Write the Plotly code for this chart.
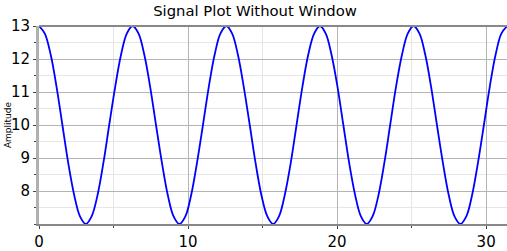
import plotly.graph_objects as go

time = [0.00, 0.39, 0.79, 1.18, 1.57, 1.96, 2.36, 2.75, 3.14, 3.53, 3.93, 4.32, 4.71, 5.11, 5.50, 5.89,
        6.28, 6.68, 7.07, 7.46, 7.85, 8.25, 8.64, 9.03, 9.42, 9.82, 10.21, 10.60, 11.00, 11.39, 11.78, 12.17,
        12.57, 12.96, 13.35, 13.74, 14.14, 14.53, 14.92, 15.32, 15.71, 16.10, 16.49, 16.89, 17.28, 17.67, 18.06, 18.46,
        18.85, 19.24, 19.63, 20.03, 20.42, 20.81, 21.21, 21.60, 21.99, 22.38, 22.78, 23.17, 23.56, 23.95, 24.35, 24.74,
        25.13, 25.53, 25.92, 26.31, 26.70, 27.10, 27.49, 27.88, 28.27, 28.67, 29.06, 29.45, 29.85, 30.24, 30.63, 31.02,
        31.42]
amplitude = [13, 12.77, 12.12, 11.15, 10, 8.85, 7.88, 7.23, 7, 7.23, 7.88, 8.85, 10, 11.15, 12.12, 12.77,
             13, 12.77, 12.12, 11.15, 10, 8.85, 7.88, 7.23, 7, 7.23, 7.88, 8.85, 10, 11.15, 12.12, 12.77,
             13, 12.77, 12.12, 11.15, 10, 8.85, 7.88, 7.23, 7, 7.23, 7.88, 8.85, 10, 11.15, 12.12, 12.77,
             13, 12.77, 12.12, 11.15, 10, 8.85, 7.88, 7.23, 7, 7.23, 7.88, 8.85, 10, 11.15, 12.12, 12.77,
             13, 12.77, 12.12, 11.15, 10, 8.85, 7.88, 7.23, 7, 7.23, 7.88, 8.85, 10, 11.15, 12.12, 12.77,
             13]

x_ticks = [0, 10, 20, 30]
y_ticks = [8, 9, 10, 11, 12, 13]

FONT = "DejaVu Sans"

fig = go.Figure()
fig.add_trace(go.Scatter(x=time, y=amplitude, mode="lines",
                         line=dict(color="#0000ff", width=1.8, shape="spline", smoothing=1.0),
                         hoverinfo="skip"))

fig.update_layout(
    width=507, height=251,
    margin=dict(l=39, r=0, t=26, b=27),
    paper_bgcolor="white", plot_bgcolor="white",
    showlegend=False,
    font=dict(family=FONT, color="black"),
    title=dict(text="Signal Plot Without Window", x=0.503, xanchor="center", y=0.958, yanchor="middle",
               font=dict(family=FONT, size=14.8, color="black")),
)

fig.update_xaxes(
    range=[0, 31.4], tickvals=x_ticks, ticktext=[str(v) for v in x_ticks],
    showgrid=True, gridcolor="#b4b4b4", gridwidth=1,
    minor=dict(dtick=5, showgrid=True, gridcolor="#e6e6e6", ticks="outside", ticklen=2, tickcolor="#444"),
    ticks="outside", ticklen=3, tickcolor="#444",
    showline=True, linecolor="#888888", linewidth=2, mirror=False,
    zeroline=False, tickfont=dict(family=FONT, size=15, color="black"),
)
fig.update_yaxes(
    range=[7, 13], tickvals=y_ticks, ticktext=[str(v) for v in y_ticks],
    showgrid=True, gridcolor="#b4b4b4", gridwidth=1,
    minor=dict(dtick=0.5, showgrid=True, gridcolor="#e6e6e6", ticks="outside", ticklen=2, tickcolor="#444"),
    ticks="outside", ticklen=3, tickcolor="#444",
    showline=True, linecolor="#b0b0b0", linewidth=3, mirror=False,
    zeroline=False, tickfont=dict(family=FONT, size=15, color="black"),
)

# top border
fig.add_shape(type="line", xref="paper", yref="paper", x0=0, x1=1, y0=1, y1=1,
              line=dict(color="#888888", width=2))

fig.add_annotation(text="Amplitude", xref="paper", yref="paper", x=-0.066, y=0.5,
                   xanchor="center", yanchor="middle", textangle=-90, showarrow=False,
                   font=dict(family=FONT, size=9, color="black"))
fig.add_annotation(text="Time", xref="paper", yref="paper", x=0.503, y=-0.19,
                   xanchor="center", yanchor="top", showarrow=False,
                   font=dict(family=FONT, size=10, color="black"))

fig.write_html("out.html")
